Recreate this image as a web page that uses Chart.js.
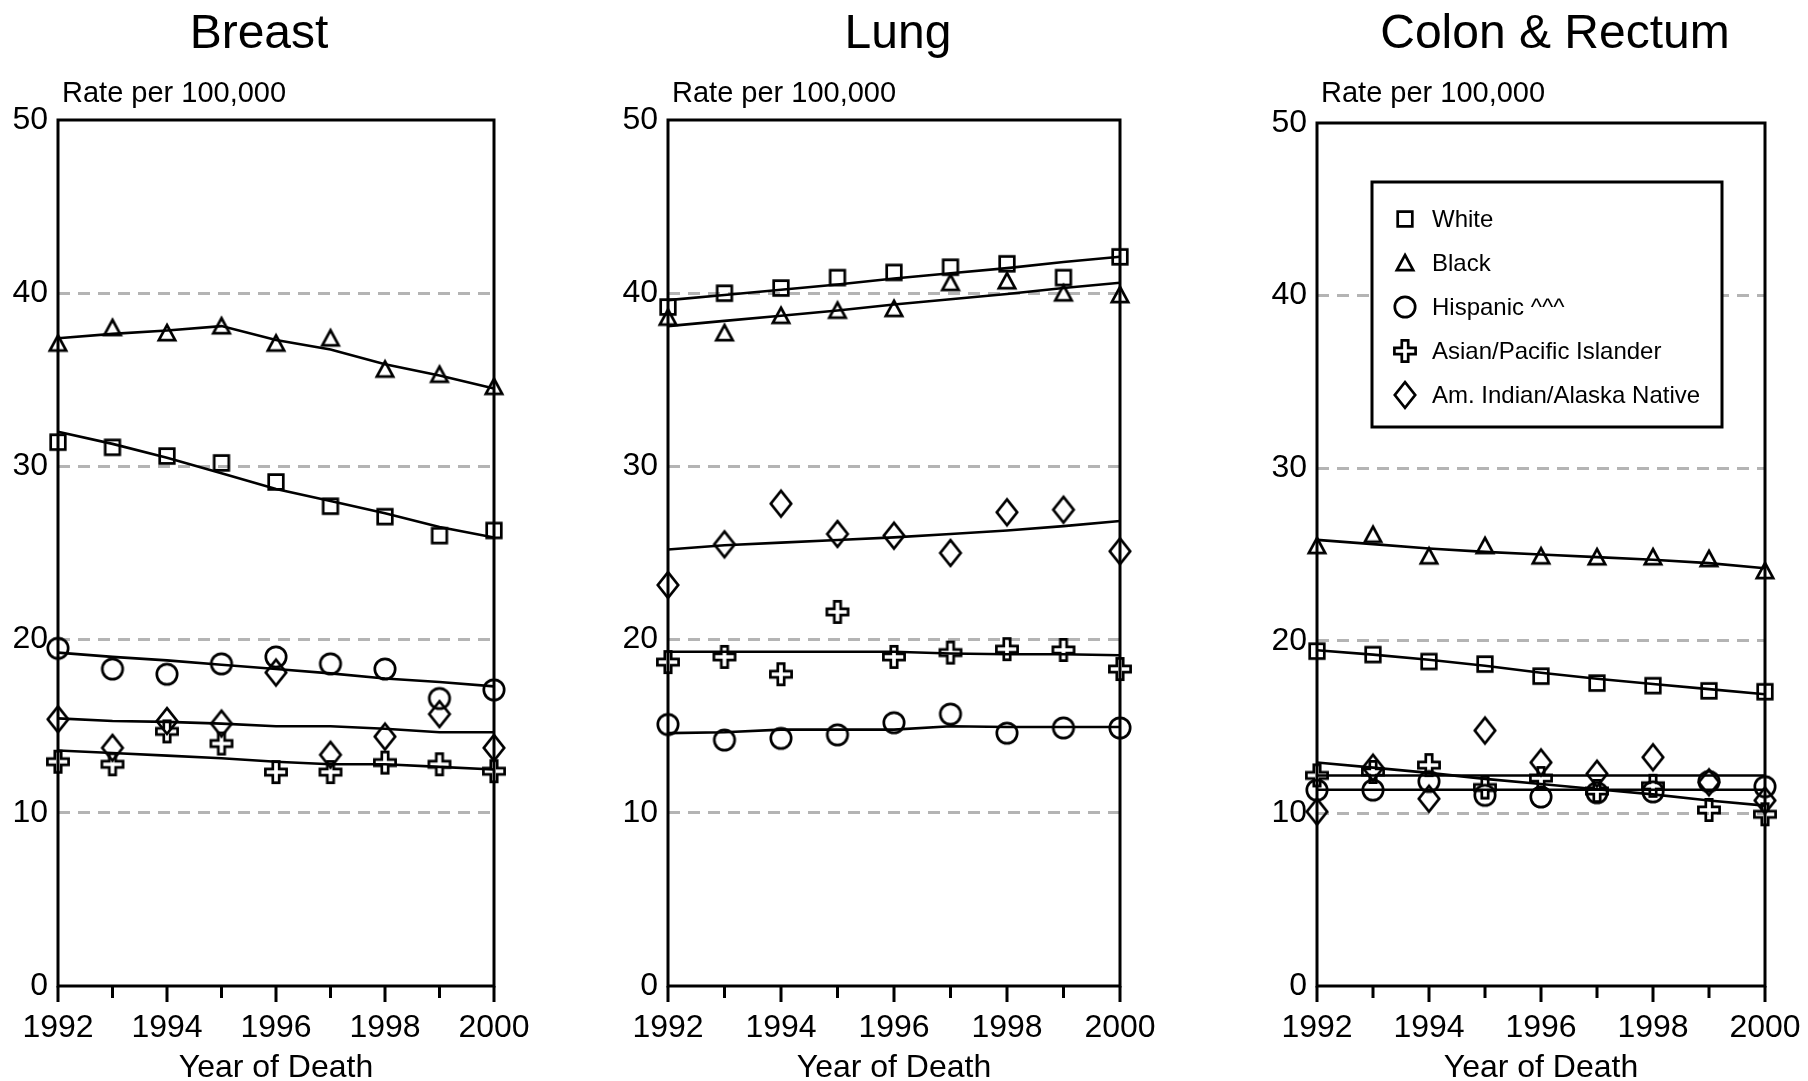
<!DOCTYPE html>
<html>
<head>
<meta charset="utf-8">
<title>Cancer death rates by race and ethnicity, 1992-2000</title>
<script src="https://cdn.jsdelivr.net/npm/chart.js@4.4.1/dist/chart.umd.min.js"></script>
<style>
  html, body { margin: 0; padding: 0; background: #fff; overflow: hidden; }
  body { width: 1808px; height: 1081px; position: relative; }
  .panel { position: absolute; top: 0; }
</style>
</head>
<body>
<div class="panel" style="left:-44px"><canvas id="breast-chart" width="604" height="1081"></canvas></div>
<div class="panel" style="left:600px"><canvas id="lung-chart" width="592" height="1081"></canvas></div>
<div class="panel" style="left:1262px"><canvas id="colon-chart" width="584" height="1081"></canvas></div>
<script>
const FONT = '"Liberation Sans", Arial, Helvetica, sans-serif';

const years = [1992, 1993, 1994, 1995, 1996, 1997, 1998, 1999, 2000];
const groups = ['White', 'Black', 'Hispanic ^^^', 'Asian/Pacific Islander', 'Am. Indian/Alaska Native'];
const shapes = ['square', 'triangle', 'circle', 'cross', 'diamond'];

// Breast: observed rates and fitted trend
const breastWhite = [31.4, 31.1, 30.6, 30.2, 29.1, 27.7, 27.1, 26.0, 26.3];
const breastWhiteTrend = [32.0, 31.3, 30.5, 29.6, 28.7, 28.0, 27.3, 26.5, 25.9];
const breastBlack = [37.1, 38.0, 37.7, 38.1, 37.1, 37.4, 35.6, 35.3, 34.6];
const breastBlackTrend = [37.4, 37.65, 37.85, 38.1, 37.3, 36.75, 35.9, 35.25, 34.5];
const breastHispanic = [19.5, 18.3, 18.0, 18.6, 19.0, 18.6, 18.3, 16.6, 17.1];
const breastHispanicTrend = [19.25, 19.0, 18.8, 18.55, 18.3, 18.05, 17.75, 17.55, 17.3];
const breastAsian = [12.95, 12.8, 14.7, 14.0, 12.35, 12.35, 12.9, 12.8, 12.4];
const breastAsianTrend = [13.6, 13.45, 13.3, 13.15, 12.95, 12.8, 12.8, 12.65, 12.5];
const breastIndian = [15.4, 13.75, 15.3, 15.15, 18.1, 13.35, 14.4, 15.7, 13.75];
const breastIndianTrend = [15.45, 15.3, 15.25, 15.15, 15.0, 15.0, 14.85, 14.65, 14.65];

// Lung
const lungWhite = [39.2, 40.0, 40.3, 40.9, 41.2, 41.5, 41.7, 40.9, 42.1];
const lungWhiteTrend = [39.6, 39.9, 40.2, 40.5, 40.85, 41.15, 41.45, 41.8, 42.1];
const lungBlack = [38.6, 37.7, 38.7, 39.0, 39.1, 40.6, 40.7, 40.0, 39.9];
const lungBlackTrend = [38.1, 38.4, 38.7, 39.0, 39.35, 39.65, 39.95, 40.3, 40.6];
const lungHispanic = [15.1, 14.2, 14.3, 14.5, 15.2, 15.7, 14.6, 14.9, 14.9];
const lungHispanicTrend = [14.6, 14.65, 14.8, 14.8, 14.8, 15.0, 14.95, 14.95, 14.95];
const lungAsian = [18.7, 19.0, 18.0, 21.6, 19.0, 19.25, 19.45, 19.4, 18.3];
const lungAsianTrend = [19.3, 19.3, 19.3, 19.3, 19.3, 19.2, 19.15, 19.15, 19.1];
const lungIndian = [23.15, 25.5, 27.85, 26.1, 26.0, 25.0, 27.35, 27.5, 25.1];
const lungIndianTrend = [25.2, 25.45, 25.6, 25.75, 25.9, 26.1, 26.3, 26.55, 26.85];

// Colon & Rectum
const colonWhite = [19.4, 19.2, 18.8, 18.65, 17.95, 17.55, 17.4, 17.1, 17.05];
const colonWhiteTrend = [19.45, 19.2, 18.9, 18.55, 18.15, 17.8, 17.5, 17.2, 16.9];
const colonBlack = [25.5, 26.15, 24.9, 25.5, 24.9, 24.85, 24.85, 24.75, 24.05];
const colonBlackTrend = [25.85, 25.6, 25.35, 25.15, 25.0, 24.85, 24.7, 24.5, 24.2];
const colonHispanic = [11.35, 11.35, 11.85, 11.05, 10.95, 11.2, 11.25, 11.85, 11.55];
const colonHispanicTrend = [11.37, 11.37, 11.37, 11.37, 11.37, 11.37, 11.37, 11.37, 11.37];
const colonAsian = [12.2, 12.4, 12.8, 11.5, 12.05, 11.3, 11.6, 10.2, 9.95];
const colonAsianTrend = [12.95, 12.65, 12.35, 12.0, 11.7, 11.4, 11.1, 10.75, 10.45];
const colonIndian = [10.1, 12.65, 10.85, 14.8, 12.95, 12.3, 13.25, 11.8, 10.75];
const colonIndianTrend = [12.2, 12.2, 12.2, 12.2, 12.2, 12.2, 12.2, 12.2, 12.2];

Chart.defaults.font.family = FONT;
Chart.defaults.color = '#000';

// open black markers drawn once and used as point styles
const makeMarker = (shape) => {
    const c = document.createElement('canvas');
    c.width = 34;
    c.height = 34;
    const g = c.getContext('2d');
    const m = 17;
    g.strokeStyle = '#000';
    g.lineWidth = 2.7;
    g.beginPath();
    if (shape === 'square') {
        g.rect(m - 7.3, m - 7.3, 14.6, 14.6);
    } else if (shape === 'triangle') {
        g.moveTo(m, m - 8);
        g.lineTo(m + 8.2, m + 7.2);
        g.lineTo(m - 8.2, m + 7.2);
        g.closePath();
    } else if (shape === 'circle') {
        g.arc(m, m, 10.2, 0, Math.PI * 2);
    } else if (shape === 'diamond') {
        g.moveTo(m, m - 12.8);
        g.lineTo(m + 10.2, m);
        g.lineTo(m, m + 12.8);
        g.lineTo(m - 10.2, m);
        g.closePath();
    } else if (shape === 'cross') {
        const a = 3.2, b = 10.6;
        const pts = [[-a, -b], [a, -b], [a, -a], [b, -a], [b, a], [a, a], [a, b], [-a, b], [-a, a], [-b, a], [-b, -a], [-a, -a]];
        pts.forEach(([px, py], i) => i ? g.lineTo(m + px, m + py) : g.moveTo(m + px, m + py));
        g.closePath();
    }
    g.stroke();
    return c;
};
const markers = shapes.map(makeMarker);

// box around the plot, tick marks under the year axis, title and caption above
const framePlugin = {
    id: 'frame',
    afterDatasetsDraw(chart, args, opts) {
        const {ctx, chartArea: a, scales: {x}} = chart;
        ctx.save();
        ctx.strokeStyle = '#000';
        ctx.lineWidth = 3;
        ctx.strokeRect(a.left, a.top, a.right - a.left, a.bottom - a.top);
        ctx.beginPath();
        years.forEach((yr, i) => {
            const px = x.getPixelForValue(i);
            ctx.moveTo(px, a.bottom);
            ctx.lineTo(px, a.bottom + (yr % 2 === 0 ? 16 : 12));
        });
        ctx.stroke();
        ctx.fillStyle = '#000';
        ctx.textBaseline = 'middle';
        ctx.textAlign = 'center';
        ctx.font = '48px ' + FONT;
        ctx.fillText(opts.title, (a.left + a.right) / 2 + opts.titleShift, 35);
        ctx.textAlign = 'left';
        ctx.font = '29px ' + FONT;
        ctx.fillText('Rate per 100,000', a.left + 4, 94);
        ctx.restore();
    }
};

const legendBox = {
    id: 'legendBox',
    afterDraw(chart, args, opts) {
        if (!opts.show) return;
        const {ctx, chartArea: a} = chart;
        const left = a.left + 55, top = a.top + 59, w = 350, h = 245;
        ctx.save();
        ctx.fillStyle = '#fff';
        ctx.fillRect(left, top, w, h);
        ctx.lineWidth = 3;
        ctx.strokeStyle = '#000';
        ctx.strokeRect(left, top, w, h);
        ctx.font = '24px ' + FONT;
        ctx.fillStyle = '#000';
        ctx.textBaseline = 'middle';
        chart.data.datasets.filter(d => d.showLine === false).forEach((d, i) => {
            const y = top + 37 + i * 44;
            ctx.drawImage(d.pointStyle, left + 33 - 17, y - 17);
            ctx.fillText(d.label, left + 60, y + 1);
        });
        ctx.restore();
    }
};

const createRateChart = (canvasId, title, observed, trend, layout) => {
    const ctx = document.getElementById(canvasId).getContext('2d');
    const trendSets = trend.map((values, i) => ({
        label: groups[i] + ' trend',
        data: values,
        borderColor: '#000',
        borderWidth: 2.6,
        pointRadius: 0,
        tension: 0,
        fill: false,
        clip: false
    }));
    const pointSets = observed.map((values, i) => ({
        label: groups[i],
        data: values,
        showLine: false,
        pointStyle: markers[i],
        pointRadius: 10,
        pointHoverRadius: 10,
        clip: false
    }));

    return new Chart(ctx, {
        type: 'line',
        data: {
            labels: years,
            datasets: trendSets.concat(pointSets)
        },
        options: {
            responsive: false,
            animation: false,
            events: [],
            layout: { padding: { left: 0, right: layout.padRight, top: layout.top, bottom: 0 } },
            plugins: {
                legend: { display: false },
                tooltip: { enabled: false },
                frame: { title: title, titleShift: layout.titleShift },
                legendBox: { show: layout.legend }
            },
            scales: {
                x: {
                    type: 'category',
                    offset: false,
                    grid: { display: false },
                    border: { display: false },
                    ticks: {
                        autoSkip: false,
                        maxRotation: 0,
                        padding: 15,
                        font: { size: 32 },
                        color: '#000',
                        callback: (val, idx) => years[idx] % 2 === 0 ? String(years[idx]) : ''
                    },
                    title: {
                        display: true,
                        text: 'Year of Death',
                        color: '#000',
                        font: { size: 32, lineHeight: 0.8 },
                        padding: 0
                    },
                    afterFit: (s) => {
                        s.height = 95;
                        s.paddingLeft = 0;
                        s.paddingRight = 0;
                    }
                },
                y: {
                    min: 0,
                    max: 50,
                    ticks: { stepSize: 10, padding: 10, font: { size: 32 }, color: '#000' },
                    grid: {
                        drawTicks: false,
                        lineWidth: 3,
                        color: (c) => (c.tick && c.tick.value > 0 && c.tick.value < 50) ? '#b4b4b4' : 'rgba(0,0,0,0)'
                    },
                    border: { display: false, dash: [12, 8] },
                    afterFit: (s) => {
                        s.width = layout.axisWidth;
                        s.paddingTop = 0;
                        s.paddingBottom = 0;
                    }
                }
            }
        },
        plugins: [framePlugin, legendBox]
    });
};

createRateChart('breast-chart', 'Breast',
    [breastWhite, breastBlack, breastHispanic, breastAsian, breastIndian],
    [breastWhiteTrend, breastBlackTrend, breastHispanicTrend, breastAsianTrend, breastIndianTrend],
    { axisWidth: 102, padRight: 66, top: 120, titleShift: -17, legend: false });

createRateChart('lung-chart', 'Lung',
    [lungWhite, lungBlack, lungHispanic, lungAsian, lungIndian],
    [lungWhiteTrend, lungBlackTrend, lungHispanicTrend, lungAsianTrend, lungIndianTrend],
    { axisWidth: 68, padRight: 72, top: 120, titleShift: 4, legend: false });

createRateChart('colon-chart', 'Colon & Rectum',
    [colonWhite, colonBlack, colonHispanic, colonAsian, colonIndian],
    [colonWhiteTrend, colonBlackTrend, colonHispanicTrend, colonAsianTrend, colonIndianTrend],
    { axisWidth: 55, padRight: 81, top: 123, titleShift: 14, legend: true });
</script>
</body>
</html>
